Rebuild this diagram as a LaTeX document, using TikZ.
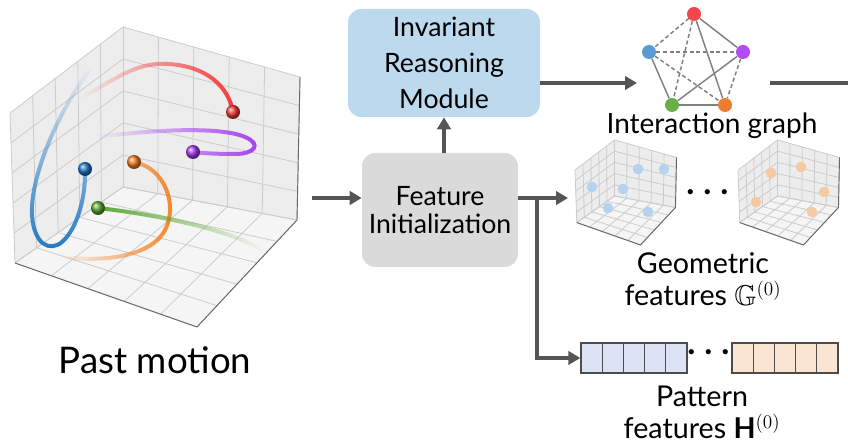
\documentclass[tikz,border=0pt]{standalone}
\usepackage{fontspec}
\setmainfont{Lato}
\usepackage{amssymb}
\usetikzlibrary{arrows.meta,calc,fadings}

\definecolor{flowgray}{HTML}{555555}
\definecolor{boxgray}{HTML}{DADADA}
\definecolor{boxblue}{HTML}{BCD9EE}
\definecolor{trred}{HTML}{F53B3B}
\definecolor{trpurple}{HTML}{A43BF0}
\definecolor{trblue}{HTML}{1F77C4}
\definecolor{trorange}{HTML}{F57F1E}
\definecolor{trgreen}{HTML}{5AA832}
\definecolor{ndred}{HTML}{F0474C}
\definecolor{ndblue}{HTML}{5B9BD5}
\definecolor{ndpurple}{HTML}{B04CF0}
\definecolor{ndgreen}{HTML}{6AAF45}
\definecolor{ndorange}{HTML}{ED7D31}
\definecolor{cellblue}{HTML}{DCE3F4}
\definecolor{cellorange}{HTML}{FAE5D2}
\definecolor{dotblue}{HTML}{B5D3EE}
\definecolor{dotorange}{HTML}{F5C9A3}

% fadings for the tails of the trajectories
\tikzfading[name=fade left, left color=transparent!100, middle color=transparent!0, right color=transparent!0]
\tikzfading[name=fade right, left color=transparent!0, middle color=transparent!0, right color=transparent!100]
\tikzfading[name=fade top, top color=transparent!100, middle color=transparent!0, bottom color=transparent!0]

\tikzset{
  pane/.style={fill=black!7},
  floorpane/.style={fill=black!4},
  gridline/.style={draw=black!20, line width=0.6pt},
  axisline/.style={draw=black!60, line width=0.7pt},
  traj/.style={line width=3pt, line cap=round},
  flow/.style={draw=flowgray, line width=3pt, -{Triangle[length=9pt,width=10pt]}},
  flowline/.style={draw=flowgray, line width=3pt},
  block/.style={rounded corners=10pt, align=center, inner sep=0pt},
  lbl/.style={align=center, inner sep=0pt},
  gnode/.style={circle, inner sep=0pt, minimum size=10.5pt},
  solidedge/.style={draw=black!50, line width=1.1pt},
  dashedge/.style={draw=black!50, line width=1.1pt, dash pattern=on 3pt off 2pt},
  cell/.style={draw=black!70, line width=1pt, minimum width=15.9pt, minimum height=22.5pt, inner sep=0pt},
  featdot/.style={circle, inner sep=0pt, minimum size=8pt},
  % a matplotlib-like 3d axes box
  plotbox/.pic={
    \coordinate (-tl) at (10,113);
    \coordinate (-tb) at (123,27);
    \coordinate (-tr) at (300,77);
    \coordinate (-bb) at (123,187);
    \coordinate (-bl) at (15,263);
    \coordinate (-br) at (297,220);
    \coordinate (-fr) at (197,327);
    \path[pane] (-tl) -- (-tb) -- (-bb) -- (-bl) -- cycle;
    \path[pane] (-tb) -- (-tr) -- (-br) -- (-bb) -- cycle;
    \path[floorpane] (-bl) -- (-bb) -- (-br) -- (-fr) -- cycle;
    \foreach \t in {0,0.2,0.4,0.6,0.8,1} {
      % left wall
      \draw[gridline] ($(-tl)!\t!(-tb)$) -- ($(-bl)!\t!(-bb)$);
      \draw[gridline] ($(-tl)!\t!(-bl)$) -- ($(-tb)!\t!(-bb)$);
      % right wall
      \draw[gridline] ($(-tb)!\t!(-tr)$) -- ($(-bb)!\t!(-br)$);
      \draw[gridline] ($(-tb)!\t!(-bb)$) -- ($(-tr)!\t!(-br)$);
      % floor
      \draw[gridline] ($(-bl)!\t!(-bb)$) -- ($(-fr)!\t!(-br)$);
      \draw[gridline] ($(-bb)!\t!(-br)$) -- ($(-bl)!\t!(-fr)$);
    }
    \draw[axisline] (-bl) -- (-fr) -- (-br) -- (-tr);
  }
}

\begin{document}
\begin{tikzpicture}[x=0.75pt,y=0.75pt,yscale=-1,xscale=1]
\useasboundingbox (0,0) rectangle (848,448);

%% past motion plot
\pic[transform shape] (past) at (0,0) {plotbox};

% trajectories
\draw[traj, trblue, path fading=fade top] (92,67) .. controls (55,115) and (30,180) .. (32,215)
  .. controls (34,245) and (50,252) .. (62,242) .. controls (78,228) and (86,195) .. (85,169);
\draw[traj, trorange, path fading=fade left] (62,257) .. controls (100,262) and (150,258) .. (165,230)
  .. controls (178,205) and (165,168) .. (134,162);
\draw[traj, trred, path fading=fade left] (82,98) .. controls (120,75) and (140,62) .. (168,64)
  .. controls (205,66) and (228,85) .. (233,112);
\draw[traj, trpurple, path fading=fade left] (98,137) .. controls (150,130) and (220,126) .. (245,137)
  .. controls (262,144) and (255,154) .. (235,154) .. controls (215,154) and (200,153) .. (193,152);
\draw[traj, trgreen, path fading=fade right] (98,208) .. controls (160,215) and (230,230) .. (262,250);

% current positions
\shade[ball color=trred] (233,112) circle (7);
\shade[ball color=trpurple] (193,152) circle (7);
\shade[ball color=trblue] (85,169) circle (7);
\shade[ball color=trorange] (134,162) circle (7);
\shade[ball color=trgreen] (98,208) circle (7);

\node[lbl, font=\fontsize{27.5}{30}\selectfont] (pastlbl) at (155,360) {Past motion};

%% feature initialization
\node[block, fill=boxgray, minimum width=117pt, minimum height=85.5pt,
      font=\fontsize{20}{20.5}\selectfont] (feat) at (440,210) {Feature\\Initialization};
\node[block, fill=boxblue, minimum width=144pt, minimum height=81pt,
      font=\fontsize{20}{27}\selectfont] (irm) at (444,63) {Invariant\\Reasoning\\Module};

\coordinate (pastout) at (312,198);
\coordinate (split) at (537,198);
\coordinate (geoin) at (568,198);
\coordinate (gin) at (637,83);
\coordinate (gout) at (770,83);
\coordinate (rightend) at (848,83);

\draw[flow] (pastout) -- (feat.west |- pastout);
\draw[flow] (feat.north -| irm.south) -- (irm.south);
\draw[flow] (irm.east |- gin) -- (gin);
\draw[flowline] (gout) -- (rightend);

%% interaction graph
\draw[dashedge] (694,14) -- (649,52);
\node[gnode, fill=ndred] (gr) at (694,14) {};
\node[gnode, fill=ndblue] (gb) at (649,52) {};
\node[gnode, fill=ndpurple] (gp) at (743,52) {};
\node[gnode, fill=ndgreen] (gg) at (672,105) {};
\node[gnode, fill=ndorange] (go) at (725,105) {};
\draw[dashedge] (gr) -- (gg);
\draw[dashedge] (gb) -- (gp);
\draw[dashedge] (gb) -- (go);
\draw[dashedge] (gp) -- (go);
\draw[solidedge] (gr) -- (go);
\draw[solidedge] (gr) -- (gp);
\draw[solidedge] (gb) -- (gg);
\draw[solidedge] (gp) -- (gg);
\draw[solidedge] (gg) -- (go);
\node[lbl, font=\fontsize{21}{24}\selectfont] (glbl) at (712,126) {Interaction graph};

%% geometric features
\draw[flowline] (feat.east |- split) -- (split);
\draw[flow] (split) -- (geoin);
\pic[transform shape, scale=0.35] (geoa) at (571.5,130.5) {plotbox};
\pic[transform shape, scale=0.35] (geob) at (734.5,130.5) {plotbox};
\foreach \px/\py in {638/169,664/169,592/187,623/189,608/208,648/212}
  \node[featdot, fill=dotblue] at (\px,\py) {};
\foreach \px/\py in {771/173,801/167,824/192,756/202,812/212}
  \node[featdot, fill=dotorange] at (\px,\py) {};
\node[lbl, font=\fontsize{30}{24}\selectfont\boldmath] (gdots) at (708,193) {$\cdots$};
\node[lbl, font=\fontsize{21.5}{24}\selectfont] (geolbl) at (703,279) {Geometric\\features $\mathbb{G}^{(0)}$};

%% pattern features
\foreach \i in {0,...,4} {
  \node[cell, fill=cellblue] (hb\i) at (591.6+\i*21.2,358) {};
  \node[cell, fill=cellorange] (ho\i) at (742.6+\i*21.2,358) {};
}
\node[lbl, font=\fontsize{30}{24}\selectfont\boldmath] (hdots) at (709,353) {$\cdots$};
\draw[flow] (split) |- (hb0.west);
\node[lbl, font=\fontsize{21.5}{24}\selectfont] (patlbl) at (702,412) {Pattern\\features $\mathbf{H}^{(0)}$};

\end{tikzpicture}
\end{document}
